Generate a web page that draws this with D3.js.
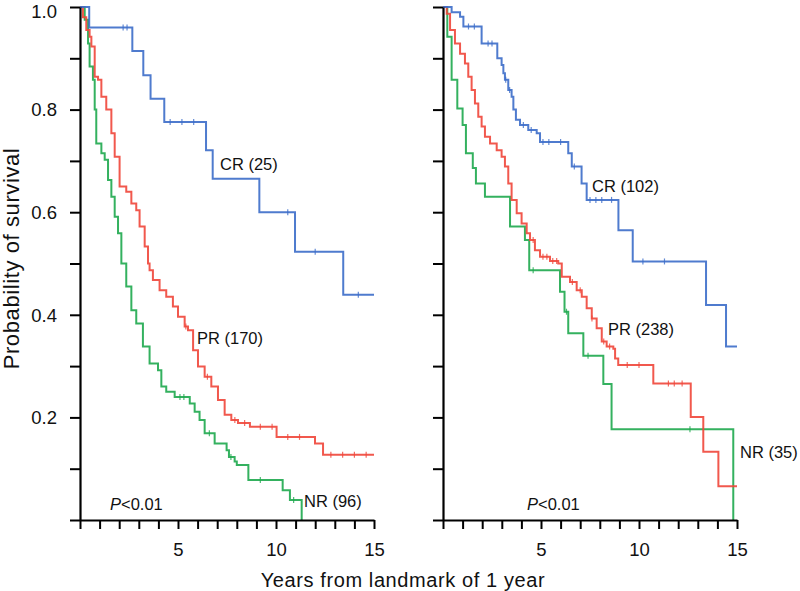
<!DOCTYPE html>
<html>
<head>
<meta charset="utf-8">
<script src="https://cdn.jsdelivr.net/npm/d3@7"></script>
<style>
  html, body { margin: 0; padding: 0; background: #fff; }
  svg { display: block; font-family: "Liberation Sans", Arial, Helvetica, sans-serif; }
</style>
</head>
<body>
<svg id="chart" width="800" height="591"></svg>
<script>
// ---------- DATA ----------
// Kaplan-Meier step points: [years, survival probability]
const leftCR = [[0,1],[0.47,0.96],[2.67,0.914],[3.23,0.867],[3.6,0.821],[4.3,0.776],[6.43,0.721],[6.77,0.665],[9.15,0.600],[10.97,0.523],[13.43,0.439],[15,0.439]];
const leftPR = [[0,1],[0.15,0.98],[0.32,0.955],[0.49,0.942],[0.58,0.923],[0.75,0.864],[0.92,0.858],[1.09,0.825],[1.34,0.80],[1.6,0.754],[1.77,0.708],[2.02,0.65],[2.36,0.64],[2.62,0.617],[2.87,0.604],[3.04,0.572],[3.3,0.533],[3.47,0.50],[3.55,0.487],[3.72,0.468],[4.06,0.448],[4.4,0.435],[4.74,0.416],[5.0,0.396],[5.34,0.377],[5.51,0.370],[5.77,0.331],[6.02,0.299],[6.36,0.279],[6.7,0.26],[7.04,0.234],[7.38,0.205],[7.72,0.195],[8.06,0.189],[8.67,0.182],[10.03,0.162],[11.99,0.149],[12.4,0.127],[15,0.127]];
const leftNR = [[0,1],[0.24,0.975],[0.41,0.929],[0.49,0.884],[0.66,0.858],[0.75,0.80],[0.83,0.734],[1.09,0.715],[1.26,0.702],[1.43,0.663],[1.6,0.63],[1.77,0.591],[1.94,0.559],[2.11,0.50],[2.36,0.455],[2.62,0.409],[2.87,0.383],[3.21,0.338],[3.55,0.305],[3.98,0.292],[4.15,0.26],[4.40,0.25],[4.83,0.24],[5.6,0.227],[5.85,0.211],[6.1,0.195],[6.36,0.169],[6.87,0.149],[7.48,0.136],[7.6,0.123],[7.89,0.114],[8.0,0.107],[8.59,0.078],[10.34,0.058],[10.71,0.039],[11.31,0]];

const rightCR = [[0,1],[0.44,0.99],[0.87,0.981],[1.04,0.962],[1.97,0.929],[2.77,0.90],[2.99,0.887],[3.08,0.871],[3.16,0.858],[3.33,0.838],[3.5,0.825],[3.59,0.80],[3.72,0.78],[3.93,0.77],[4.35,0.76],[4.78,0.754],[4.95,0.737],[6.39,0.715],[6.57,0.689],[7.07,0.656],[7.33,0.624],[8.95,0.565],[9.68,0.504],[13.42,0.419],[14.44,0.338],[15,0.338]];
const rightPR = [[0,1],[0.19,0.987],[0.36,0.955],[0.61,0.929],[0.87,0.909],[1.12,0.89],[1.29,0.864],[1.46,0.838],[1.63,0.812],[1.8,0.786],[1.97,0.767],[2.14,0.747],[2.4,0.734],[2.74,0.721],[2.99,0.708],[3.16,0.689],[3.33,0.656],[3.5,0.624],[3.76,0.598],[4.01,0.578],[4.27,0.559],[4.44,0.546],[4.69,0.526],[4.95,0.513],[5.46,0.505],[5.88,0.50],[6.06,0.474],[6.48,0.464],[6.82,0.448],[7.08,0.435],[7.33,0.413],[7.59,0.393],[7.84,0.374],[8.1,0.348],[8.35,0.338],[8.69,0.334],[8.78,0.315],[8.94,0.302],[10.73,0.266],[12.64,0.201],[13.28,0.133],[14.05,0.066],[15,0.066]];
const rightNR = [[0,1],[0.22,0.942],[0.44,0.858],[0.73,0.802],[1.0,0.77],[1.17,0.715],[1.52,0.686],[1.68,0.656],[2.14,0.63],[3.42,0.572],[4.18,0.546],[4.4,0.487],[5.97,0.445],[6.2,0.406],[6.39,0.364],[7.16,0.32],[8.18,0.265],[8.6,0.177],[14.81,0]];

// censoring marks (years)
const leftCRcens = [2.2, 2.4, 4.6, 5.2, 5.8, 10.6, 12.0, 14.2];
const leftPRcens = [5.4, 6.5, 7.9, 8.4, 9.2, 9.8, 10.6, 11.2, 12.8, 13.4, 14.0, 14.6];
const leftNRcens = [5.1, 5.3, 6.6, 7.7, 9.2, 10.9];
const rightCRcens = [1.3, 1.6, 2.3, 2.5, 3.2, 3.4, 4.1, 4.5, 5.1, 5.4, 6.0, 6.7, 7.5, 7.8, 8.1, 8.6, 10.2, 11.3];
const rightPRcens = [4.6, 5.1, 5.3, 5.6, 5.8, 6.6, 7.0, 7.6, 8.2, 8.5, 9.4, 10.0, 11.5, 11.8, 12.2];
const rightNRcens = [4.6, 6.3, 7.4, 12.6];

const panelLabels = {
  left:  { CR: "CR (25)",  PR: "PR (170)", NR: "NR (96)" },
  right: { CR: "CR (102)", PR: "PR (238)", NR: "NR (35)" }
};
const pText = "<0.01";
const yTicks = [0,0.1,0.2,0.3,0.4,0.5,0.6,0.7,0.8,0.9,1.0];
const yLabeled = [0.2,0.4,0.6,0.8,1.0];
const xTicks = [0,1,2,3,4,5,6,7,8,9,10,11,12,13,14,15];
const xLabeled = [5,10,15];
const yTitle = "Probability of survival";
const xTitle = "Years from landmark of 1 year";

// ---------- STYLE ----------
const colors = { CR: "#3c6dc9", PR: "#f0463a", NR: "#1ea94e" };

const svg = d3.select("#chart");

const y = d3.scaleLinear().domain([0, 1]).range([520, 7]);

function stepValue(data, t) {
  let v = data[0][1];
  for (const d of data) { if (d[0] <= t) v = d[1]; else break; }
  return v;
}

function drawPanel(x0, showYLabels, series, labels, labelPos) {
  const x = d3.scaleLinear().domain([0, 15]).range([x0, x0 + 294]);
  const g = svg.append("g");

  const line = d3.line().x(d => x(d[0])).y(d => y(d[1])).curve(d3.curveStepAfter);

  ["NR", "PR", "CR"].forEach(k => {
    const s = series[k];
    g.append("path")
      .attr("d", line(s.data))
      .attr("fill", "none")
      .attr("stroke", colors[k])
      .attr("stroke-width", 2)
      .attr("stroke-opacity", 0.9);
    g.selectAll(null).data(s.cens).enter().append("line")
      .attr("x1", d => x(d)).attr("x2", d => x(d))
      .attr("y1", d => y(stepValue(s.data, d)) - 3)
      .attr("y2", d => y(stepValue(s.data, d)) + 3)
      .attr("stroke", colors[k]).attr("stroke-width", 1.2).attr("stroke-opacity", 0.8);
  });

  const yAxis = d3.axisLeft(y).tickValues(yTicks).tickSize(10).tickSizeOuter(0)
    .tickFormat(d => showYLabels && yLabeled.some(v => Math.abs(v - d) < 1e-9) ? d3.format(".1f")(d) : "");
  const ya = g.append("g").attr("transform", `translate(${x0},0)`).call(yAxis);
  const xAxis = d3.axisBottom(x).tickValues(xTicks).tickSize(9).tickSizeOuter(0)
    .tickFormat(d => xLabeled.includes(d) ? d : "");
  const xa = g.append("g").attr("transform", `translate(0,520)`).call(xAxis);

  [ya, xa].forEach(a => {
    a.select(".domain").attr("stroke", "#000").attr("stroke-width", 2.2);
    a.selectAll(".tick line").attr("stroke", "#000").attr("stroke-width", 2);
    a.selectAll(".tick text").attr("fill", "#111").style("font-size", "18.5px")
      .style("font-family", '"Liberation Sans", Arial, sans-serif');
  });
  ya.selectAll(".tick text").attr("x", -23).attr("dy", d => d === 1 ? "0.56em" : "0.34em");
  xa.selectAll(".tick text").attr("y", 36).attr("dy", 0);

  ["CR", "PR", "NR"].forEach(k => {
    g.append("text").attr("x", labelPos[k][0]).attr("y", labelPos[k][1])
      .attr("fill", "#111").style("font-size", "16.5px").text(labels[k]);
  });
  const pt = g.append("text").attr("x", labelPos.P[0]).attr("y", labelPos.P[1])
    .attr("fill", "#111").style("font-size", "16.5px");
  pt.append("tspan").style("font-style", "italic").text("P");
  pt.append("tspan").text(pText);
}

drawPanel(80, true,
  { CR: { data: leftCR, cens: leftCRcens }, PR: { data: leftPR, cens: leftPRcens }, NR: { data: leftNR, cens: leftNRcens } },
  panelLabels.left,
  { CR: [220, 170], PR: [197, 344], NR: [304, 507], P: [110, 510] });

drawPanel(443, false,
  { CR: { data: rightCR, cens: rightCRcens }, PR: { data: rightPR, cens: rightPRcens }, NR: { data: rightNR, cens: rightNRcens } },
  panelLabels.right,
  { CR: [592, 192], PR: [608, 335], NR: [740, 458], P: [527, 510] });

svg.append("text")
  .attr("transform", "translate(18.5,258.5) rotate(-90)")
  .attr("text-anchor", "middle").attr("fill", "#111")
  .style("font-size", "22px").style("letter-spacing", "0.6px")
  .text(yTitle);
svg.append("text")
  .attr("x", 403).attr("y", 587).attr("text-anchor", "middle")
  .attr("fill", "#111").style("font-size", "20px").style("letter-spacing", "0.6px")
  .text(xTitle);
</script>
</body>
</html>
